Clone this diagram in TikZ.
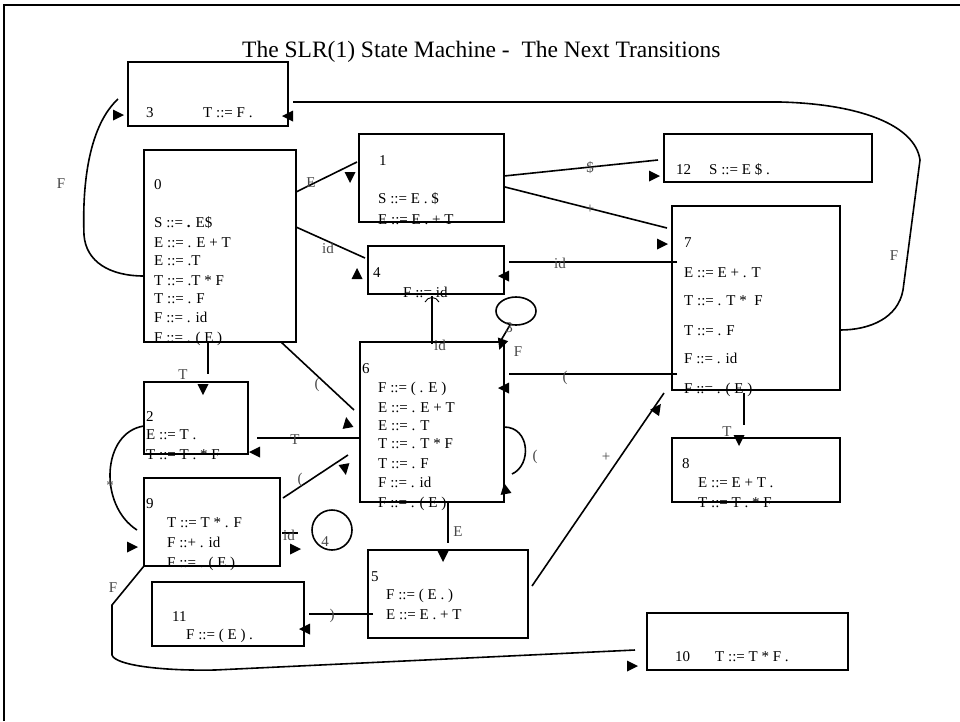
\documentclass[tikz,border=0pt]{standalone}
\usepackage{fontspec}
\setmainfont{Liberation Serif}
\tikzset{
  pics/headtri/.style={code={\fill (5,0) -- (-6,5.5) -- (-6,-5.5) -- cycle;}},
}
\begin{document}
\begin{tikzpicture}[x=1pt,y=-1pt,
  box/.style={draw, line width=1.8pt, inner sep=0pt},
  txt/.style={anchor=base west, inner sep=0pt, font=\fontsize{15}{18}\selectfont},
  lbl/.style={inner sep=0pt, font=\fontsize{15}{18}\selectfont, text=black!72},
  conn/.style={line width=1.6pt},
  loopc/.style={line width=1.6pt}]
\useasboundingbox (0,0) rectangle (960,721);

% frame
\draw[line width=1.8pt] (4,721) -- (4,5) -- (960,5);

% title
\node[anchor=base west, inner sep=0pt, font=\fontsize{23.5}{28}\selectfont] (title) at (242,57)
  {The SLR(1) State Machine -\ \ The Next Transitions};

% states
\node[box, minimum width=152pt, minimum height=192pt] (s0)  at (220,246) {};
\node[box, minimum width=145pt, minimum height=88pt]  (s1)  at (431.5,178) {};
\node[box, minimum width=104pt, minimum height=72pt]  (s2)  at (196,418) {};
\node[box, minimum width=160pt, minimum height=64pt]  (s3)  at (208,94) {};
\node[box, minimum width=136pt, minimum height=48pt]  (s4)  at (436,270) {};
\node[box, minimum width=160pt, minimum height=88pt]  (s5)  at (448,594) {};
\node[box, minimum width=144pt, minimum height=160pt] (s6)  at (432,422) {};
\node[box, minimum width=168pt, minimum height=184pt] (s7)  at (756,298) {};
\node[box, minimum width=168pt, minimum height=64pt]  (s8)  at (756,470) {};
\node[box, minimum width=136pt, minimum height=88pt]  (s9)  at (212,522) {};
\node[box, minimum width=201pt, minimum height=57pt]  (s10) at (747.5,641.5) {};
\node[box, minimum width=152pt, minimum height=64pt]  (s11) at (228,614) {};
\node[box, minimum width=208pt, minimum height=48pt]  (s12) at (768,158) {};

% state 0
\node[txt] (t0n) at (154,189) {0};
\node[txt] (t0a) at (154,227) {S ::= \textbf{.} E\$};
\node[txt] (t0b) at (154,247) {E ::= . E + T};
\node[txt] (t0c) at (154,265) {E ::= .T};
\node[txt] (t0d) at (154,285) {T ::= .T * F};
\node[txt] (t0e) at (154,303) {T ::= . F};
\node[txt] (t0f) at (154,322) {F ::= . id};
\node[txt] (t0g) at (154,342) {F ::= . ( E )};
% state 1
\node[txt] (t1n) at (379,165) {1};
\node[txt] (t1a) at (378,203) {S ::= E . \$};
\node[txt] (t1b) at (378,224) {E ::= E . + T};
% state 2
\node[txt] (t2n) at (146,421) {2};
\node[txt] (t2a) at (146,439) {E ::= T .};
\node[txt] (t2b) at (146,459) {T ::= T . * F};
% state 3
\node[txt] (t3n) at (146,117) {3};
\node[txt] (t3a) at (203,117) {T ::= F .};
% state 4
\node[txt] (t4n) at (373,277) {4};
\node[txt] (t4a) at (403,297) {F ::= id};
% state 5
\node[txt] (t5n) at (371,581) {5};
\node[txt] (t5a) at (386,599) {F ::= ( E . )};
\node[txt] (t5b) at (386,619) {E ::= E . + T};
% state 6
\node[txt] (t6n) at (362,373) {6};
\node[txt] (t6a) at (378,392) {F ::= ( . E )};
\node[txt] (t6b) at (378,412) {E ::= . E + T};
\node[txt] (t6c) at (378,430) {E ::= . T};
\node[txt] (t6d) at (378,448) {T ::= . T * F};
\node[txt] (t6e) at (378,468) {T ::= . F};
\node[txt] (t6f) at (378,487) {F ::= . id};
\node[txt] (t6g) at (378,507) {F ::= . ( E )};
% state 7
\node[txt] (t7n) at (684,247) {7};
\node[txt] (t7a) at (684,277) {E ::= E + . T};
\node[txt] (t7b) at (684,305) {T ::= . T * \ F};
\node[txt] (t7c) at (684,335) {T ::= . F};
\node[txt] (t7d) at (684,363) {F ::= . id};
\node[txt] (t7e) at (684,393) {F ::= . ( E )};
% state 8
\node[txt] (t8n) at (682,468) {8};
\node[txt] (t8a) at (698,487) {E ::= E + T .};
\node[txt] (t8b) at (698,507) {T ::= T . * F};
% state 9
\node[txt] (t9n) at (146,508) {9};
\node[txt] (t9a) at (167,527) {T ::= T * . F};
\node[txt] (t9b) at (167,547) {F ::+ . id};
\node[txt] (t9c) at (167,567) {F ::= . ( E )};
% state 10
\node[txt] (t10n) at (675,661) {10};
\node[txt] (t10a) at (715,661) {T ::= T * F .};
% state 11
\node[txt] (t11n) at (172,621) {11};
\node[txt] (t11a) at (186,639) {F ::= ( E ) .};
% state 12
\node[txt] (t12n) at (676,174) {12};
\node[txt] (t12a) at (709,174) {S ::= E \$ .};

% transitions
% 0 -E-> 1
\draw[conn] (296,192) coordinate (e1a) -- (357,162) coordinate (e1b);
\pic[rotate=-90] at (350,178) {headtri};
\node[lbl] (l1) at (311,183) {E};
% 0 -id-> 4
\draw[conn] (296,227) coordinate (e2a) -- (365,258) coordinate (e2b);
\pic[rotate=90] at (357,273) {headtri};
\node[lbl] (l2) at (328,248) {id};
% 0 -F-> 3
\draw[conn] (144,276) coordinate (e3a) .. controls (110,276) and (86,262) .. (84,235)
  .. controls (82,180) and (90,125) .. (118,99) coordinate (e3b);
\pic at (119,115) {headtri};
\node[lbl] (l3) at (61,184) {F};
% 7 -F-> 3
\draw[conn] (840,330) coordinate (e4a) .. controls (870,330) and (898,318) .. (903,290)
  -- (920,160) .. controls (915,125) and (860,104) .. (780,102) -- (293,102) coordinate (e4b);
\pic[rotate=180] at (287,116) {headtri};
\node[lbl] (l4) at (894,256) {F};
% 1 -$-> 12
\draw[conn] (504,176) coordinate (e5a) -- (658,160) coordinate (e5b);
\pic at (655,176) {headtri};
\node[lbl] (l5) at (590,168) {\$};
% 1 -+-> 7
\draw[conn] (505,187) coordinate (e6a) -- (667,228) coordinate (e6b);
\pic at (663,244) {headtri};
\node[lbl] (l6) at (590,209) {+};
% 7 -id-> 4
\draw[conn] (677,262) coordinate (e7a) -- (509,262) coordinate (e7b);
\pic[rotate=180] at (503,276) {headtri};
\node[lbl] (l7) at (560,263) {id};
% 6 -id-> 4
\draw[conn] (432,344) coordinate (e8a) -- (432,296) coordinate (e8b);
\draw[line width=0.9pt] (425,302) .. controls (428,296) and (436,296) .. (439,302);
\node[lbl] (l8) at (440,345) {id};
% 6 -F-> 3 (drawn as a small ring)
\draw[loopc] (516,311) ellipse [x radius=20, y radius=14];
\draw[conn] (510,325) coordinate (e9a) -- (500,342) coordinate (e9b);
\pic[rotate=-110] at (501,345) {headtri};
\node[lbl] (l9) at (509,328) {3};
\node[lbl] (l9f) at (518,352) {F};
% 7 -(-> 6
\draw[conn] (677,374) coordinate (e10a) -- (509,374) coordinate (e10b);
\pic[rotate=180] at (503,388) {headtri};
\node[lbl] (l10) at (565,378) {(};
% 6 -(-> 6
\draw[conn] (504,427) coordinate (e11a) .. controls (530,427) and (532,465) .. (512,474) coordinate (e11b);
\pic[rotate=100] at (505,488) {headtri};
\node[lbl] (l11) at (535,457) {(};
% 5 -+-> 7
\draw[conn] (532,586) coordinate (e12a) -- (664,393) coordinate (e12b);
\pic[rotate=55] at (658,408) {headtri};
\node[lbl] (l12) at (606,457) {+};
% 7 -T-> 8
\draw[conn] (744,393) coordinate (e13a) -- (744,425) coordinate (e13b);
\pic[rotate=-90] at (739,441) {headtri};
\node[lbl] (l13) at (727,432) {T};
% 0 -T-> 2
\draw[conn] (208,342) coordinate (e14a) -- (208,374) coordinate (e14b);
\pic[rotate=-90] at (203,390) {headtri};
\node[lbl] (l14) at (183,375) {T};
% 0 -(-> 6
\draw[conn] (281,342) coordinate (e15a) -- (354,410) coordinate (e15b);
\pic[rotate=100] at (347,422) {headtri};
\node[lbl] (l15) at (317,385) {(};
% 6 -T-> 2
\draw[conn] (360,438) coordinate (e16a) -- (257,438) coordinate (e16b);
\pic[rotate=180] at (254,452) {headtri};
\node[lbl] (l16) at (295,440) {T};
% 9 -(-> 6
\draw[conn] (283,498) coordinate (e17a) -- (348,455) coordinate (e17b);
\pic[rotate=-80] at (345,470) {headtri};
\node[lbl] (l17) at (300,480) {(};
% 2 -*-> 9
\draw[conn] (144,426) coordinate (e18a) .. controls (102,432) and (98,505) .. (137,530) coordinate (e18b);
\pic at (133,547) {headtri};
\node[lbl] (l18) at (110,486) {*};
% 9 -id-> 4 (drawn as a small ring)
\draw[conn] (282,533) coordinate (e19a) -- (298,533) coordinate (e19b);
\pic at (296,549) {headtri};
\draw[loopc] (332,530) circle [radius=20];
\node[lbl] (l19) at (289,535) {id};
\node[lbl] (l19n) at (325,542) {4};
% 6 -E-> 5
\draw[conn] (448,502) coordinate (e20a) -- (448,543) coordinate (e20b);
\pic[rotate=-90] at (443,557) {headtri};
\node[lbl] (l20) at (458,532) {E};
% 5 -)-> 11
\draw[conn] (373,614) coordinate (e21a) -- (309,614) coordinate (e21b);
\pic[rotate=180] at (304,629) {headtri};
\node[lbl] (l21) at (332,616) {)};
% 9 -F-> 10
\draw[conn] (144,566) coordinate (e22a) -- (112,605) -- (112,655)
  .. controls (115,665) and (160,671) .. (215,670) -- (635,650) coordinate (e22b);
\pic at (633,666) {headtri};
\node[lbl] (l22) at (113,588) {F};
\end{tikzpicture}
\end{document}
